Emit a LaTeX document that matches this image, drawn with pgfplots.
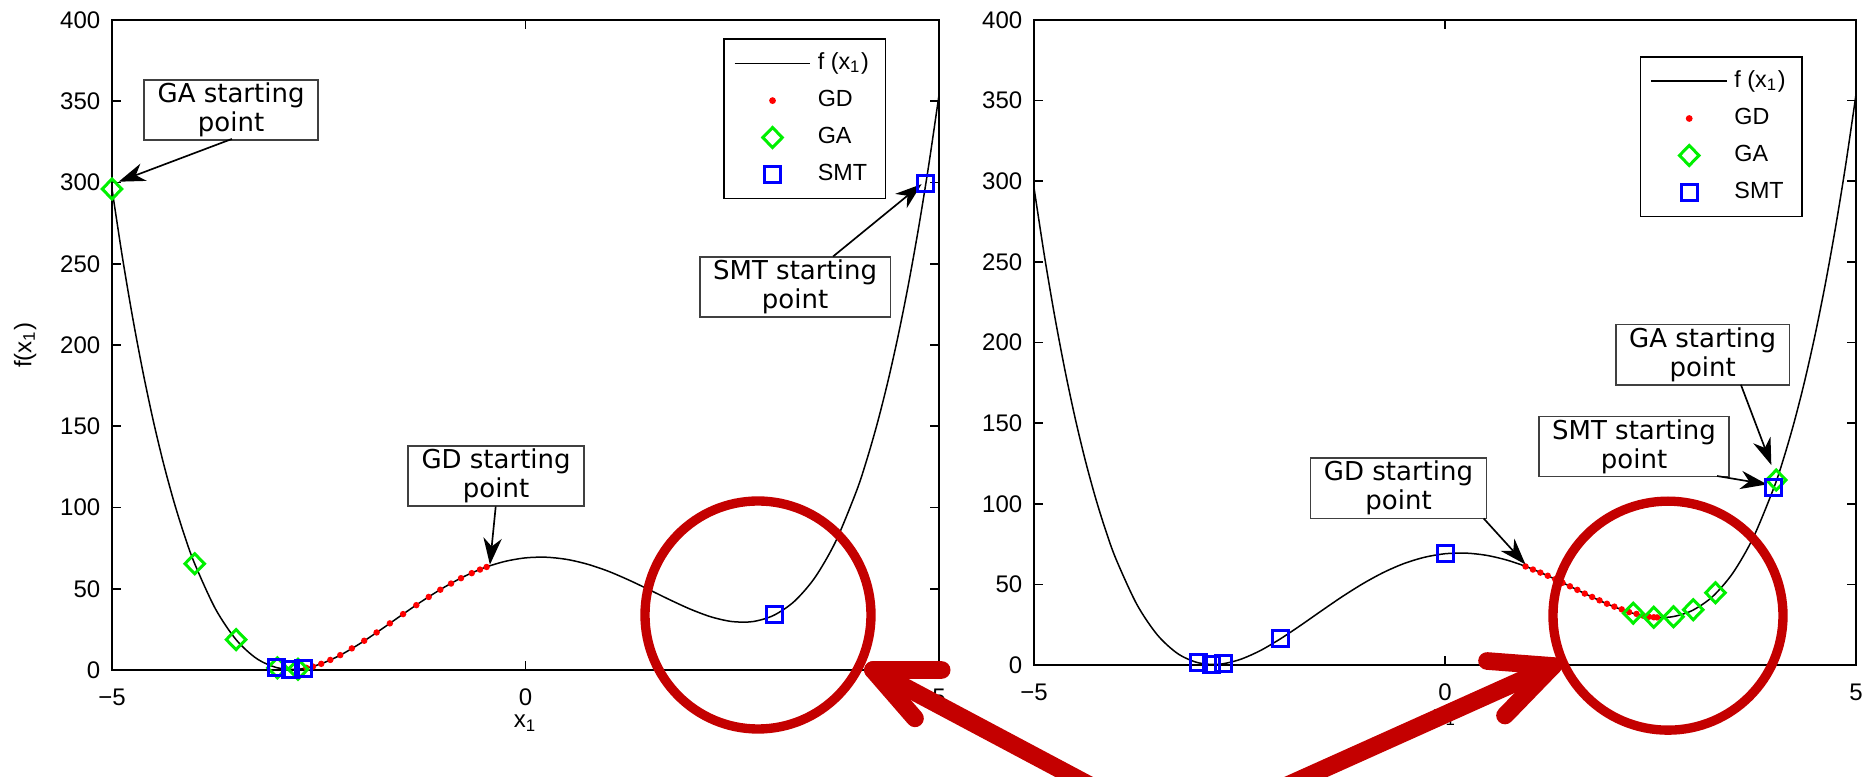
\documentclass[border=0pt]{standalone}
\usepackage{fontspec}
\setmainfont{Liberation Sans}
\newfontfamily\dejavu{DejaVu Sans}
\usepackage{pgfplots}
\pgfplotsset{compat=1.18}
\usepackage{pgfplotstable}
\usetikzlibrary{arrows.meta}

\definecolor{gagreen}{RGB}{0,240,0}
\definecolor{smtblue}{RGB}{0,0,255}
\definecolor{gdred}{RGB}{255,0,0}
\definecolor{annred}{RGB}{196,0,0}

% f(x1)
\pgfplotstableread{
x y
-5 296.0
-4.875 254.3
-4.75 216.8
-4.625 183.2
-4.5 153.2
-4.375 126.7
-4.25 103.4
-4.125 83.0
-4 65.4
-3.75 37.7
-3.5 18.7
-3.25 7.0
-3 1.35
-2.75 0.46
-2.5 3.3
-2.25 8.85
-2 16.3
-1.75 24.8
-1.5 33.7
-1.25 42.4
-1 50.4
-0.75 57.35
-0.5 62.9
-0.25 66.8
0 69.0
0.25 69.4
0.5 68.05
0.75 65.1
1 60.8
1.25 55.35
1.5 49.3
1.75 43.1
2 37.3
2.25 32.6
2.5 29.8
2.75 29.8
3 33.6
3.25 42.2
3.5 56.9
3.75 79.0
4 109.8
4.125 129.0
4.25 151.0
4.375 176.0
4.5 204.2
4.625 235.8
4.75 271.1
4.875 310.3
5 353.8
}\curve

% left panel
\pgfplotstableread{
x y
-2.65 1.3
-2.57 2.1
-2.47 3.8
-2.36 6.2
-2.24 9.15
-2.10 13.3
-1.95 18.0
-1.80 23.1
-1.64 28.7
-1.48 34.4
-1.32 39.9
-1.17 44.95
-1.03 49.4
-0.90 53.2
-0.78 56.5
-0.65 59.6
-0.55 61.8
-0.47 63.4
}\gdleft
\pgfplotstableread{
x y
-5 296.0
-4.0 65.4
-3.5 18.7
-3.0 1.35
-2.75 0.46
}\galeft
\pgfplotstableread{
x y
4.84 299.3
3.01 33.9
-3.01 1.3
-2.84 0.3
-2.69 0.75
}\smtleft

% right panel
\pgfplotstableread{
x y
0.98 61.1
1.07 59.2
1.16 57.3
1.25 55.35
1.34 53.2
1.43 51.0
1.52 48.8
1.61 46.6
1.70 44.3
1.79 42.2
1.88 40.1
1.97 38.0
2.06 36.2
2.15 34.5
2.24 32.8
2.33 31.7
2.41 30.6
2.48 29.9
2.54 29.6
2.58 29.5
}\gdright
\pgfplotstableread{
x y
4.03 114.7
3.29 44.8
3.02 34.3
2.78 29.9
2.54 29.6
2.29 32.15
}\garight
\pgfplotstableread{
x y
4.0 109.8
0 69.0
-2.0 16.3
-3.0 1.35
-2.84 0.3
-2.69 0.75
}\smtright

\tikzset{
  annot/.style={draw=black!75, line width=0.5pt, fill=white, align=center,
    inner xsep=4pt, inner ysep=0.9pt, font=\dejavu\fontsize{7.8}{8.7}\selectfont},
  annarrow/.style={line width=0.5pt, -{Stealth[length=8pt,width=5.5pt,inset=2.5pt]}},
}

\pgfplotsset{
  myaxis/.style={
    scale only axis,
    xmin=-5, xmax=5, ymin=0, ymax=400,
    xtick={-5,0,5}, xticklabels={−5,0,5},
    ytick={0,50,...,400},
    /pgf/number format/assume math mode=true,
    tick align=inside,
    major tick length=2.8pt,
    axis line style={line width=0.8pt},
    every tick/.style={line width=0.5pt, black},
    tick label style={font=\fontsize{7.2}{8}\selectfont},
    xticklabel shift=2.2pt,
    label style={font=\fontsize{7.2}{8}\selectfont},
    xlabel={x\textsubscript{1}},
    x label style={at={(axis description cs:0.5,-0.0815)}, anchor=center},
    clip=false,
    legend cell align=left,
    legend style={anchor=north west, draw=black, line width=0.5pt,
      font=\fontsize{7}{8}\selectfont, inner xsep=3pt, inner ysep=2pt,
      row sep=0.7pt},
  },
  fline/.style={black, line width=0.45pt, smooth,
    legend image code/.code={\draw[##1] (0pt,0pt) -- (22.7pt,0pt);}},
  mk/.style={only marks,
    legend image code/.code={\draw[mark repeat=2,mark phase=2,##1] plot coordinates {(0pt,0pt) (11.35pt,0pt) (22.7pt,0pt)};}},
  gdst/.style={mk, mark=*, mark size=0.75pt, color=gdred},
  gast/.style={mk, mark=diamond, mark size=3pt, color=gagreen, mark options={xscale=1.3, line width=0.9pt}},
  smtst/.style={mk, mark=square, mark size=2.4pt, color=smtblue, mark options={line width=0.9pt}},
}

\begin{document}
\begin{tikzpicture}
% ---------------- left panel ----------------
\begin{axis}[myaxis,
  at={(33.6pt,32.1pt)}, anchor=south west, width=248.1pt, height=195pt,
  ylabel={f(x\textsubscript{1})},
  y label style={at={(axis description cs:-0.105,0.5)}, anchor=center},
  legend style={at={(axis description cs:0.739,0.972)}},
]
\addplot[fline] table[x=x,y=y] {\curve};
\addplot[gdst] table[x=x,y=y] {\gdleft};
\addplot[gast] table[x=x,y=y] {\galeft};
\addplot[smtst] table[x=x,y=y] {\smtleft};
\legend{f (x\textsubscript{1}),GD,GA,SMT}
\node[annot] at (axis cs:-3.56,344.6) {GA starting\\point};
\draw[annarrow] (axis cs:-3.55,326.8) -- (axis cs:-4.92,300.5);
\node[annot] at (axis cs:-0.355,119.5) {GD starting\\point};
\draw[annarrow] (axis cs:-0.36,100.6) -- (axis cs:-0.43,64.8);
\node[annot] at (axis cs:3.26,235.6) {SMT starting\\point};
\draw[annarrow] (axis cs:3.72,254.5) -- (axis cs:4.79,299);
\end{axis}
% ---------------- right panel ----------------
\begin{axis}[myaxis,
  at={(310.2pt,33.6pt)}, anchor=south west, width=246.6pt, height=193.5pt,
  legend style={at={(axis description cs:0.737,0.944)}},
]
\addplot[fline] table[x=x,y=y] {\curve};
\addplot[gdst] table[x=x,y=y] {\gdright};
\addplot[gast] table[x=x,y=y] {\garight};
\addplot[smtst] table[x=x,y=y] {\smtright};
\legend{f (x\textsubscript{1}),GD,GA,SMT}
\node[annot] at (axis cs:3.135,192.5) {GA starting\\point};
\draw[annarrow] (axis cs:3.60,173.8) -- (axis cs:3.97,124);
\node[annot] at (axis cs:2.30,135.5) {SMT starting\\point};
\draw[annarrow] (axis cs:3.31,117.2) -- (axis cs:3.92,112);
\node[annot] at (axis cs:-0.565,109.6) {GD starting\\point};
\draw[annarrow] (axis cs:0.47,90.9) -- (axis cs:0.98,62.3);
\end{axis}
% ---------------- red highlights ----------------
\draw[annred, line width=2.8pt] (227.4pt,48.6pt) ellipse (33.9pt and 34.2pt);
\draw[annred, line width=2.8pt] (500.4pt,48.4pt) ellipse (34.5pt and 34.35pt);
\draw[annred, line width=5.3pt, line cap=round] (327.9pt,-3pt) -- (261.9pt,32.1pt);
\draw[annred, line width=5.3pt, line cap=round, line join=round] (282.5pt,32.1pt) -- (261.9pt,32.1pt) -- (274.5pt,17.6pt);
\draw[annred, line width=5.3pt, line cap=round] (385.05pt,-3pt) -- (465.9pt,33.3pt);
\draw[annred, line width=5.3pt, line cap=round, line join=round] (446.1pt,34.8pt) -- (465.9pt,33.3pt) -- (451.5pt,18.45pt);
\pgfresetboundingbox
\path[use as bounding box] (0,0) rectangle (560.4pt,233.1pt);
\end{tikzpicture}
\end{document}
